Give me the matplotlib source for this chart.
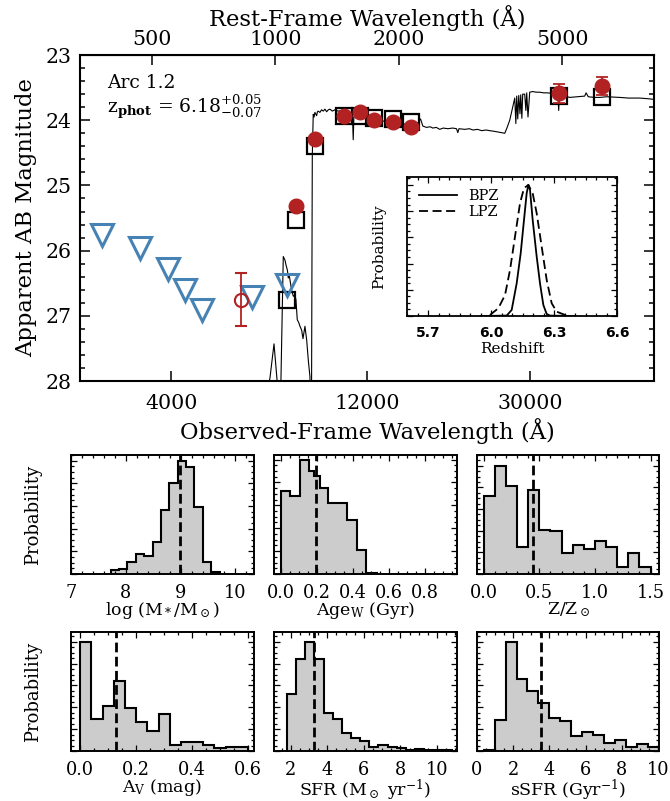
import numpy as np
import matplotlib
matplotlib.use('Agg')
import matplotlib.pyplot as plt
from matplotlib.ticker import FixedLocator, NullLocator, MultipleLocator, AutoMinorLocator

plt.rcParams['font.family'] = 'DejaVu Serif'
plt.rcParams['mathtext.fontset'] = 'dejavuserif'

z_best = 6.18

# best-fit model spectrum, observed wavelength (A) and AB mag
spec_wave = [6700, 6965, 7124, 7250, 7324, 7380, 7504, 7580, 7619, 7680, 7717, 7760, 7791,
             7860, 7937, 8000, 8056, 8116, 8180, 8241, 8319, 8381, 8430, 8474, 8556, 8640,
             8714, 8750, 8790, 8830, 8877, 8920, 8960, 9047, 9090, 9128, 9215, 9300, 9390,
             9480, 9569, 9660, 9749, 9880, 10025, 10200, 10400, 10603, 10800, 10950, 11050,
             11108, 11150, 11300, 11534, 11800, 12200, 12600, 12901, 13300, 13640, 14000,
             14427, 14900, 15259, 15700, 15959, 16200, 16417, 16760, 17100, 17359, 17700,
             18046, 18400, 18883, 19400, 19823, 19969, 20100, 20768, 21300, 21755, 22300,
             22843, 23400, 23887, 24500, 24984, 25500, 25983, 26300, 26719, 27171, 27483,
             27650, 27788, 27950, 28103, 28300, 28420, 28600, 28736, 29060, 29250, 29388,
             29600, 29886, 30392, 31000, 31607, 32300, 33055, 34000, 34705, 35000, 35159,
             35300, 35755, 36500, 37400, 39000, 40680, 41000, 41500, 43000, 44250, 46000,
             49500, 52000, 55370, 58000, 60000]
spec_mag = [28.5, 27.95, 27.43, 28.0, 28.5, 28.5, 26.09, 26.15, 26.22, 26.30, 26.42, 26.38, 26.45,
            26.60, 26.70, 26.68, 26.75, 27.06, 27.10, 27.16, 27.22, 27.35, 27.25, 27.16, 27.37, 27.70,
            27.93, 28.5, 28.5, 24.55, 23.91, 23.95, 23.88, 23.93, 23.87, 23.86, 23.88, 23.84, 23.86,
            23.83, 23.87, 23.84, 23.83, 23.86, 23.84, 23.86, 23.85, 23.88, 23.90, 23.92, 23.85,
            24.30, 23.95, 23.93, 23.97, 23.96, 23.98, 24.00, 24.00, 24.02, 24.03, 24.02,
            24.05, 24.06, 24.07, 24.06, 24.04, 23.98, 24.09, 24.11, 24.10, 24.12, 24.11,
            24.14, 24.12, 24.13, 24.12, 24.13, 24.19, 24.13, 24.14, 24.13, 24.15, 24.14,
            24.16, 24.15, 24.16, 24.17, 24.18, 24.19, 24.20, 24.12, 24.00, 23.80, 23.66,
            24.05, 23.63, 23.98, 23.62, 23.90, 23.61, 23.97, 23.60, 23.60, 23.85, 23.58,
            23.95, 23.57, 23.56, 23.57, 23.57, 23.58, 23.58, 23.59, 23.60, 23.62, 23.85,
            23.63, 23.64, 23.63, 23.65, 23.64, 23.63, 23.58, 23.64, 23.65, 23.65, 23.64,
            23.65, 23.66, 23.66, 23.67, 23.68]

# model photometry (open squares)
model_wave = [7670, 8044, 8960, 10545, 11534, 12470, 13870, 15350, 35160, 44740]
model_mag = [26.76, 25.53, 24.40, 23.93, 23.93, 23.96, 23.98, 24.03, 23.63, 23.65]

# detections (filled circles)
det_wave = [8044, 8960, 10545, 11534, 12470, 13870, 15350, 35160, 44740]
det_mag = [25.32, 24.29, 23.93, 23.88, 23.99, 24.02, 24.10, 23.59, 23.48]
det_err = [0.0, 0.0, 0.0, 0.0, 0.0, 0.0, 0.0, 0.145, 0.14]

# low S/N point (open circle)
low_wave = [5920]
low_mag = [26.75]
low_err = [0.4]

# upper limits (triangles)
lim_wave = [2713, 3362, 3927, 4321, 4759, 6309, 7670]
lim_mag = [25.76, 25.96, 26.28, 26.60, 26.91, 26.71, 26.53]

# P(z) inset
bpz_z = [5.95, 6.0746, 6.0984, 6.1222, 6.1413, 6.1571, 6.1698, 6.1778, 6.1857, 6.1984,
         6.2175, 6.2333, 6.2492, 6.2651, 6.2810, 6.40]
bpz_p = [0.0, 0.003, 0.046, 0.249, 0.478, 0.733, 0.936, 1.0, 0.962, 0.733,
         0.453, 0.249, 0.084, 0.015, 0.003, 0.0]
lpz_z = [5.9952, 6.0349, 6.0667, 6.0905, 6.1143, 6.1381, 6.1571, 6.1778, 6.1984, 6.2175,
         6.2413, 6.2651, 6.2889, 6.3127, 6.3603]
lpz_p = [0.008, 0.059, 0.160, 0.351, 0.606, 0.860, 0.975, 1.0, 0.936, 0.784,
         0.529, 0.275, 0.097, 0.033, 0.003]

# posterior histograms (bin edges, bin heights, median)
mass_edges = [7.73, 7.88, 8.03, 8.19, 8.34, 8.49, 8.64, 8.79, 8.95, 9.10, 9.25, 9.40, 9.55, 9.71]
mass_hist = [12, 15, 37, 60, 54, 97, 191, 272, 340, 320, 202, 37, 5]
mass_med = 8.99

age_edges = [0.0, 0.05, 0.105, 0.157, 0.185, 0.216, 0.262, 0.317, 0.367, 0.422, 0.474, 0.53]
age_hist = [245, 230, 338, 305, 290, 255, 210, 210, 160, 72, 2]
age_med = 0.194

met_edges = [0.0, 0.1, 0.2, 0.3, 0.4, 0.5, 0.6, 0.7, 0.8, 0.9, 1.0, 1.1, 1.2, 1.3, 1.4, 1.5]
met_hist = [235, 325, 265, 82, 252, 132, 130, 64, 87, 74, 100, 80, 22, 62, 22]
met_med = 0.445

av_edges = [0.0, 0.04, 0.08, 0.12, 0.16, 0.20, 0.24, 0.28, 0.32, 0.36, 0.40, 0.44, 0.48, 0.52, 0.56, 0.60]
av_hist = [326, 95, 133, 208, 127, 88, 60, 110, 18, 26, 26, 18, 10, 13, 11]
av_med = 0.127

sfr_edges = [1.8, 2.3, 2.8, 3.3, 3.8, 4.3, 4.8, 5.3, 5.8, 6.3, 6.8, 7.3, 7.8, 8.3, 8.8, 9.3, 9.8, 10.3, 10.8]
sfr_hist = [170, 273, 324, 272, 112, 95, 52, 38, 30, 12, 19, 12, 8, 4, 7, 2, 2, 2]
sfr_med = 3.26

ssfr_edges = [0.38, 0.98, 1.58, 2.19, 2.79, 3.40, 4.00, 4.60, 5.21, 5.81, 6.42, 7.02, 7.62, 8.23, 8.83, 9.44, 10.04]
ssfr_hist = [2, 92, 323, 212, 177, 143, 98, 90, 45, 55, 48, 25, 32, 13, 22, 13]
ssfr_med = 3.53

red = '#B22222'
blue = '#4682B4'

fig = plt.figure(figsize=(6.7, 8.01), dpi=100)

# ---- SED panel ----
ax = fig.add_axes([0.1194, 0.5243, 0.8567, 0.4070])
ax.plot(spec_wave, spec_mag, color='k', lw=0.8)
ax.plot(model_wave, model_mag, 's', ms=12, mfc='none', mec='k', mew=1.6)
ax.plot(lim_wave, lim_mag, 'v', ms=16, mfc='none', mec=blue, mew=2.2)
ax.errorbar(low_wave, low_mag, yerr=low_err, fmt='o', ms=9.5, mfc='none', mec=red, mew=1.5,
            ecolor=red, elinewidth=1.3, capsize=4, capthick=1.3)
ax.errorbar(det_wave, det_mag, yerr=det_err, fmt='o', ms=10.5, color=red, mec=red,
            ecolor=red, elinewidth=1.3, capsize=4, capthick=1.3)
ax.set_xscale('log')
ax.set_xlim(2400, 60000)
ax.set_ylim(28, 23)
ax.xaxis.set_major_locator(FixedLocator([4000, 12000, 30000]))
ax.xaxis.set_minor_locator(NullLocator())
ax.set_xticklabels(['4000', '12000', '30000'])
ax.yaxis.set_major_locator(MultipleLocator(1))
ax.yaxis.set_minor_locator(MultipleLocator(0.2))
ax.tick_params(which='both', direction='in', right=True, top=False, labelsize=14.8, width=1.1)
ax.tick_params(which='major', length=7, pad=6)
ax.tick_params(which='minor', length=3.5)
ax.tick_params(axis='x', pad=9)
for s in ax.spines.values():
    s.set_linewidth(1.5)
ax.set_xlabel('Observed-Frame Wavelength (Å)', fontsize=16.3, labelpad=4)
ax.set_ylabel('Apparent AB Magnitude', fontsize=16.3, labelpad=6)

top = ax.secondary_xaxis('top', functions=(lambda w: w / (1 + z_best), lambda w: w * (1 + z_best)))
top.xaxis.set_major_locator(FixedLocator([500, 1000, 2000, 5000]))
top.xaxis.set_minor_locator(NullLocator())
top.set_xticklabels(['500', '1000', '2000', '5000'])
top.tick_params(direction='in', length=7, width=1.1, labelsize=14.8, pad=4)
top.set_xlabel('Rest-Frame Wavelength (Å)', fontsize=16.3, labelpad=3)

ax.text(0.047, 0.90, 'Arc 1.2', transform=ax.transAxes, fontsize=13.5)
ax.text(0.047, 0.822, r'z$_{\mathbf{phot}}$ = 6.18$^{+0.05}_{-0.07}$', transform=ax.transAxes, fontsize=13.5)

# ---- P(z) inset ----
ins = fig.add_axes([0.6075, 0.6055, 0.3134, 0.1735])
ins.plot(bpz_z, bpz_p, color='k', lw=1.3, label='BPZ')
ins.plot(lpz_z, lpz_p, color='k', lw=1.3, ls=(0, (5, 2.5)), label='LPZ')
ins.set_xlim(5.6, 6.6)
ins.set_ylim(0, 1.06)
ins.set_xticks([5.7, 6.0, 6.3, 6.6])
ins.set_xticklabels(['5.7', '6.0', '6.3', '6.6'], family='DejaVu Sans', fontweight='bold', fontsize=10)
ins.xaxis.set_minor_locator(AutoMinorLocator(6))
ins.yaxis.set_major_locator(MultipleLocator(0.2))
ins.yaxis.set_minor_locator(MultipleLocator(0.05))
ins.set_yticklabels([])
ins.tick_params(which='both', direction='in', top=True, right=True, width=0.9)
ins.tick_params(which='major', length=4, pad=7)
ins.tick_params(which='minor', length=2)
for s in ins.spines.values():
    s.set_linewidth(1.3)
ins.set_xlabel('Redshift', fontsize=11, labelpad=2)
ins.set_ylabel('Probability', fontsize=11, labelpad=8)
ins.legend(loc='upper left', frameon=False, fontsize=10.5, handlelength=2.6, handletextpad=0.8,
           borderaxespad=0.2, borderpad=0.6, labelspacing=0.15)

# ---- posterior histograms ----
panels = [
    (mass_edges, mass_hist, mass_med, (7.0, 10.33), 1.05, [7, 8, 9, 10], ['7', '8', '9', '10'],
     r'log (M$_*$/M$_\odot$)'),
    (age_edges, age_hist, age_med, (-0.04, 0.975), 1.04, [0.0, 0.2, 0.4, 0.6, 0.8],
     ['0.0', '0.2', '0.4', '0.6', '0.8'], r'Age$_{\rm W}$ (Gyr)'),
    (met_edges, met_hist, met_med, (-0.06, 1.58), 1.10, [0.0, 0.5, 1.0, 1.5],
     ['0.0', '0.5', '1.0', '1.5'], r'Z/Z$_\odot$'),
    (av_edges, av_hist, av_med, (-0.033, 0.62), 1.09, [0.0, 0.2, 0.4, 0.6],
     ['0.0', '0.2', '0.4', '0.6'], r'A$_{\rm V}$ (mag)'),
    (sfr_edges, sfr_hist, sfr_med, (1.09, 11.07), 1.09, [2, 4, 6, 8, 10],
     ['2', '4', '6', '8', '10'], r'SFR (M$_\odot$ yr$^{-1}$)'),
    (ssfr_edges, ssfr_hist, ssfr_med, (0.13, 10.09), 1.09, [0, 2, 4, 6, 8, 10],
     ['0', '2', '4', '6', '8', '10'], r'sSFR (Gyr$^{-1}$)'),
]
lefts = [0.1060, 0.4090, 0.7119]
bottoms = [0.2834, 0.0624]

for i, (edges, hist, med, xlim, ytop, ticks, labels, xlabel) in enumerate(panels):
    h = np.array(hist, dtype=float)
    h = h / h.max()
    a = fig.add_axes([lefts[i % 3], bottoms[i // 3], 0.2724, 0.1486])
    a.stairs(h, edges, fill=True, color='#CCCCCC')
    a.stairs(h, edges, baseline=0, color='k', lw=1.5)
    a.axvline(med, color='k', lw=2.0, ls=(0, (3.5, 1.6)))
    a.set_xlim(*xlim)
    a.set_ylim(0, ytop)
    a.set_xticks(ticks)
    a.set_xticklabels(labels)
    a.xaxis.set_minor_locator(AutoMinorLocator())
    a.yaxis.set_major_locator(MultipleLocator(0.2))
    a.yaxis.set_minor_locator(MultipleLocator(0.05))
    a.set_yticklabels([])
    a.tick_params(which='both', direction='in', top=True, right=True, width=0.9, labelsize=12.8)
    a.tick_params(which='major', length=4, pad=7)
    a.tick_params(which='minor', length=2)
    for s in a.spines.values():
        s.set_linewidth(1.4)
    a.set_xlabel(xlabel, fontsize=12.5, labelpad=-1)
    if i % 3 == 0:
        a.set_ylabel('Probability', fontsize=13, labelpad=14)

fig.savefig('out.png', dpi=100)
